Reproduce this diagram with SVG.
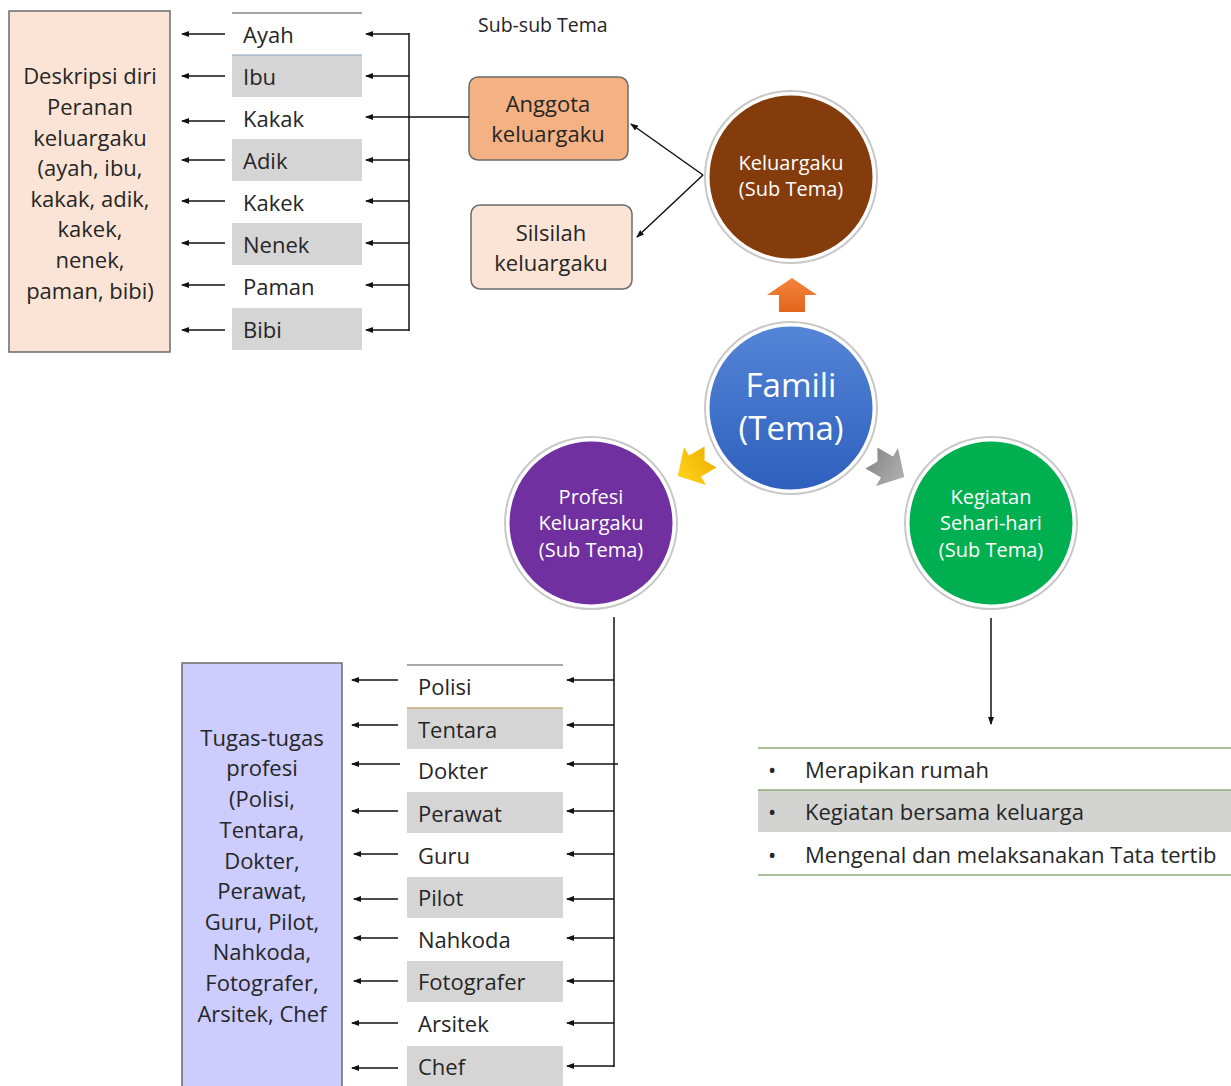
<svg xmlns="http://www.w3.org/2000/svg" width="1231" height="1086" viewBox="0 0 1231 1086">
<defs>
<marker id="ah" markerUnits="userSpaceOnUse" markerWidth="8" markerHeight="6" refX="7" refY="3" orient="auto">
<path d="M0,0 L8,3 L0,6 z" fill="#111"/>
</marker>
<linearGradient id="gBlue" x1="0" y1="0" x2="0" y2="1">
<stop offset="0" stop-color="#5585d6"/>
<stop offset="1" stop-color="#2e5fbd"/>
</linearGradient>
<linearGradient id="gOrange" x1="0" y1="0" x2="0" y2="1">
<stop offset="0" stop-color="#f4843a"/>
<stop offset="1" stop-color="#e2661c"/>
</linearGradient>
<linearGradient id="gYellow" x1="0" y1="0" x2="0" y2="1">
<stop offset="0" stop-color="#ffd21f"/>
<stop offset="1" stop-color="#f0b400"/>
</linearGradient>
<linearGradient id="gGray" x1="0" y1="0" x2="0" y2="1">
<stop offset="0" stop-color="#b0b0b0"/>
<stop offset="1" stop-color="#8c8c8c"/>
</linearGradient>
</defs>
<style>
text{font-family:"Open Sans","Noto Sans",sans-serif;fill:#262626;font-size:22px}
.c{text-anchor:middle}
.w{fill:#ffffff}
.s{font-size:20px}
.box{stroke:#6b6b6b;stroke-width:1.5}
.gr{fill:#d6d5d5}
.ln{stroke:#111;stroke-width:1.5;fill:none}
.ar{stroke:#111;stroke-width:1.5;fill:none;marker-end:url(#ah)}
.ring{fill:none;stroke:#c8c8c8;stroke-width:2}
.cw{stroke:#ffffff;stroke-width:3}
</style>
<rect width="1231" height="1086" fill="#ffffff"/>

<g id="deskripsi">
<rect x="9" y="11" width="161" height="341" fill="#fbe4d5" class="box"/>
<text class="c" x="90" y="84">Deskripsi diri</text>
<text class="c" x="90" y="115">Peranan</text>
<text class="c" x="90" y="146">keluargaku</text>
<text class="c" x="90" y="176">(ayah, ibu,</text>
<text class="c" x="90" y="207">kakak, adik,</text>
<text class="c" x="90" y="237">kakek,</text>
<text class="c" x="90" y="268">nenek,</text>
<text class="c" x="90" y="299">paman, bibi)</text>
</g>

<g id="tabel-anggota">
<line x1="232" y1="13" x2="362" y2="13" stroke="#8a8a8a" stroke-width="1.5"/>
<rect class="gr" x="232" y="55" width="130" height="42"/>
<line x1="232" y1="55" x2="362" y2="55" stroke="#8ea5c0" stroke-width="1.2"/>
<rect class="gr" x="232" y="139" width="130" height="42"/>
<rect class="gr" x="232" y="223" width="130" height="42"/>
<rect class="gr" x="232" y="308" width="130" height="42"/>
<text x="243" y="43">Ayah</text>
<text x="243" y="85">Ibu</text>
<text x="243" y="127">Kakak</text>
<text x="243" y="169">Adik</text>
<text x="243" y="211">Kakek</text>
<text x="243" y="253">Nenek</text>
<text x="243" y="295">Paman</text>
<text x="243" y="338">Bibi</text>
</g>

<text x="478" y="32" style="font-size:19.5px">Sub-sub Tema</text>

<g id="anggota">
<rect x="469" y="77" width="159" height="83" rx="9" fill="#f4b183" class="box"/>
<text class="c" x="548" y="112">Anggota</text>
<text class="c" x="548" y="142">keluargaku</text>
</g>
<g id="silsilah">
<rect x="471" y="205" width="161" height="84" rx="9" fill="#fbe4d5" class="box"/>
<text class="c" x="551" y="241">Silsilah</text>
<text class="c" x="551" y="271">keluargaku</text>
</g>

<g id="keluargaku">
<circle cx="791" cy="177" r="86" class="ring"/>
<circle cx="791" cy="177" r="83" fill="#843c0c" class="cw"/>
<text class="c w s" x="791" y="170">Keluargaku</text>
<text class="c w s" x="791" y="196">(Sub Tema)</text>
</g>

<g id="famili">
<circle cx="791" cy="408" r="86" class="ring"/>
<circle cx="791" cy="408" r="83" fill="url(#gBlue)" class="cw"/>
<text class="c w" x="791" y="397" style="font-size:33px">Famili</text>
<text class="c w" x="791" y="440" style="font-size:33px">(Tema)</text>
</g>

<g id="profesi">
<circle cx="591" cy="523" r="86" class="ring"/>
<circle cx="591" cy="523" r="83" fill="#7030a0" class="cw"/>
<text class="c w s" x="591" y="504">Profesi</text>
<text class="c w s" x="591" y="530">Keluargaku</text>
<text class="c w s" x="591" y="557">(Sub Tema)</text>
</g>

<g id="kegiatan">
<circle cx="991" cy="523" r="86" class="ring"/>
<circle cx="991" cy="523" r="83" fill="#00b050" class="cw"/>
<text class="c w s" x="991" y="504">Kegiatan</text>
<text class="c w s" x="991" y="530">Sehari-hari</text>
<text class="c w s" x="991" y="557">(Sub Tema)</text>
</g>

<g id="panah-blok">
<path transform="translate(792,295)" d="M0,-17 L25,0 L13,0 L13,17 L-13,17 L-13,0 L-25,0 z" fill="url(#gOrange)"/>
<path transform="translate(695,466) rotate(-120)" d="M0,-20 L22,0 L12,0 L12,18 L0,11 L-12,18 L-12,0 L-22,0 z" fill="url(#gYellow)"/>
<path transform="translate(887,467) rotate(120)" d="M0,-20 L22,0 L12,0 L12,18 L0,11 L-12,18 L-12,0 L-22,0 z" fill="url(#gGray)"/>
</g>

<g id="tugas">
<rect x="182" y="663" width="160" height="430" fill="#ccccff" class="box"/>
<text class="c" x="262" y="746">Tugas-tugas</text>
<text class="c" x="262" y="776">profesi</text>
<text class="c" x="262" y="807">(Polisi,</text>
<text class="c" x="262" y="838">Tentara,</text>
<text class="c" x="262" y="869">Dokter,</text>
<text class="c" x="262" y="899">Perawat,</text>
<text class="c" x="262" y="930">Guru, Pilot,</text>
<text class="c" x="262" y="960">Nahkoda,</text>
<text class="c" x="262" y="991">Fotografer,</text>
<text class="c" x="262" y="1022">Arsitek, Chef</text>
</g>

<g id="tabel-profesi">
<line x1="407" y1="665" x2="563" y2="665" stroke="#555" stroke-width="1.2"/>
<rect class="gr" x="407" y="708" width="156" height="41"/>
<line x1="407" y1="708" x2="563" y2="708" stroke="#c4aa78" stroke-width="1.5"/>
<rect class="gr" x="407" y="792" width="156" height="41"/>
<rect class="gr" x="407" y="877" width="156" height="41"/>
<rect class="gr" x="407" y="961" width="156" height="41"/>
<rect class="gr" x="407" y="1046" width="156" height="41"/>
<text x="418" y="695">Polisi</text>
<text x="418" y="738">Tentara</text>
<text x="418" y="779">Dokter</text>
<text x="418" y="822">Perawat</text>
<text x="418" y="864">Guru</text>
<text x="418" y="906">Pilot</text>
<text x="418" y="948">Nahkoda</text>
<text x="418" y="990">Fotografer</text>
<text x="418" y="1032">Arsitek</text>
<text x="418" y="1075">Chef</text>
</g>

<g id="kegiatan-list">
<rect x="758" y="790" width="473" height="42" fill="#d3d3d1"/>
<line x1="758" y1="748" x2="1231" y2="748" stroke="#8faa7c" stroke-width="1.5"/>
<line x1="758" y1="790" x2="1231" y2="790" stroke="#8faa7c" stroke-width="1.5"/>
<line x1="758" y1="875" x2="1231" y2="875" stroke="#8faa7c" stroke-width="1.5"/>
<text x="768" y="778">•</text>
<text x="805" y="778">Merapikan rumah</text>
<text x="768" y="820">•</text>
<text x="805" y="820">Kegiatan bersama keluarga</text>
<text x="768" y="863">•</text>
<text x="805" y="863">Mengenal dan melaksanakan Tata tertib</text>
</g>

<g id="konektor">
<line class="ar" x1="225" y1="34" x2="182" y2="34"/>
<line class="ar" x1="225" y1="76" x2="182" y2="76"/>
<line class="ar" x1="225" y1="121" x2="182" y2="121"/>
<line class="ar" x1="225" y1="160" x2="182" y2="160"/>
<line class="ar" x1="225" y1="201" x2="182" y2="201"/>
<line class="ar" x1="225" y1="243" x2="182" y2="243"/>
<line class="ar" x1="225" y1="285" x2="182" y2="285"/>
<line class="ar" x1="225" y1="330" x2="182" y2="330"/>
<line class="ln" x1="409" y1="33" x2="409" y2="331"/>
<line class="ar" x1="409" y1="34" x2="366" y2="34"/>
<line class="ar" x1="409" y1="76" x2="366" y2="76"/>
<line class="ar" x1="469" y1="117" x2="366" y2="117"/>
<line class="ar" x1="409" y1="160" x2="366" y2="160"/>
<line class="ar" x1="409" y1="201" x2="366" y2="201"/>
<line class="ar" x1="409" y1="243" x2="366" y2="243"/>
<line class="ar" x1="409" y1="285" x2="366" y2="285"/>
<line class="ar" x1="409" y1="330" x2="366" y2="330"/>
<line class="ar" x1="703" y1="175" x2="631" y2="124"/>
<line class="ar" x1="703" y1="175" x2="637" y2="237"/>
<line class="ln" x1="614" y1="617" x2="614" y2="1067"/>
<line class="ar" x1="614" y1="680" x2="567" y2="680"/>
<line class="ar" x1="614" y1="725" x2="567" y2="725"/>
<line class="ar" x1="618" y1="764" x2="567" y2="764"/>
<line class="ar" x1="614" y1="811" x2="567" y2="811"/>
<line class="ar" x1="614" y1="854" x2="567" y2="854"/>
<line class="ar" x1="614" y1="899" x2="567" y2="899"/>
<line class="ar" x1="614" y1="938" x2="567" y2="938"/>
<line class="ar" x1="614" y1="981" x2="567" y2="981"/>
<line class="ar" x1="614" y1="1023" x2="567" y2="1023"/>
<line class="ar" x1="614" y1="1066" x2="567" y2="1066"/>
<line class="ar" x1="398" y1="680" x2="352" y2="680"/>
<line class="ar" x1="398" y1="725" x2="352" y2="725"/>
<line class="ar" x1="400" y1="764" x2="352" y2="764"/>
<line class="ar" x1="398" y1="811" x2="352" y2="811"/>
<line class="ar" x1="398" y1="854" x2="354" y2="854"/>
<line class="ar" x1="398" y1="899" x2="354" y2="899"/>
<line class="ar" x1="398" y1="938" x2="354" y2="938"/>
<line class="ar" x1="398" y1="981" x2="354" y2="981"/>
<line class="ar" x1="398" y1="1023" x2="352" y2="1023"/>
<line class="ar" x1="398" y1="1068" x2="352" y2="1068"/>
<line class="ar" x1="991" y1="618" x2="991" y2="724"/>
</g>
</svg>
